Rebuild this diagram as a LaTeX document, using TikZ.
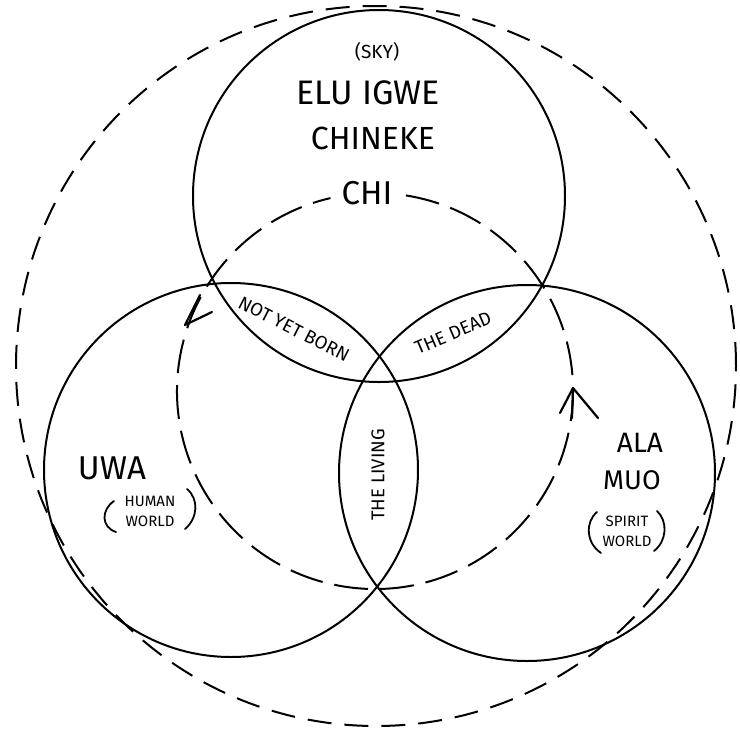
\documentclass[tikz,border=0pt]{standalone}
\usepackage{fontspec}
\setmainfont{Fira Sans}
\begin{document}
\begin{tikzpicture}[x=1pt,y=-1pt,
  ring/.style={circle, draw, line width=2pt, inner sep=0pt},
  outerdash/.style={circle, draw, inner sep=0pt, line width=2pt, dash pattern=on 24pt off 13pt},
  innerdash/.style={line width=2pt, dash pattern=on 34pt off 12pt},
  tipline/.style={line width=2.2pt, line cap=round, line join=round},
  paren/.style={line width=1.8pt, line cap=round},
  lab/.style={inner sep=0pt},
  small/.style={lab, font=\fontsize{18.5}{18.5}\selectfont},
  tiny/.style={lab, font=\fontsize{15}{20}\selectfont, align=center}]
\useasboundingbox (0,0) rectangle (740,729);
\fill[white] (0,0) rectangle (740,729);
% outer dashed circle
\node[outerdash, minimum size=720pt] (cosmos) at (376,366) {};
% three worlds
\node[ring, minimum size=372pt] (sky) at (379,196) {};
\node[ring, minimum size=374pt] (uwa) at (231,470) {};
\node[ring, minimum size=376pt] (alamuo) at (527,473) {};
% inner dashed cycle with gap for CHI
\coordinate (cyc) at (375,391);
\draw[innerdash] (cyc) ++(-81:198) arc[start angle=-81, end angle=257, radius=198];
% arrow heads
\coordinate (ltip) at (185,325);
\coordinate (la) at (200,295);
\coordinate (lb) at (212,312);
\draw[tipline] (la) -- (ltip) -- (lb);
\coordinate (rtip) at (573,388);
\coordinate (ra) at (560,413);
\coordinate (rb) at (598,418);
\coordinate (rs) at (572,418);
\draw[tipline] (ra) -- (rtip) -- (rb);
\draw[tipline] (rtip) -- (rs);
% labels
\node[lab, font=\fontsize{19}{19}\selectfont] (skylab) at (377,52) {(SKY)};
\node[lab, font=\fontsize{34}{34}\selectfont] (elu) at (368,93) {ELU IGWE};
\node[lab, font=\fontsize{32}{32}\selectfont] (chineke) at (373,138) {CHINEKE};
\node[lab, font=\fontsize{33}{33}\selectfont] (chi) at (367,193) {CHI};
\node[small, rotate=-27] (notyet) at (294,329) {NOT YET BORN};
\node[small, rotate=23] (dead) at (453,333) {THE DEAD};
\node[small, rotate=90] (living) at (378,475) {THE LIVING};
\node[lab, font=\fontsize{33}{33}\selectfont] (uwalab) at (112,468) {UWA};
\node[tiny] (human) at (150,511) {HUMAN\\WORLD};
\node[lab, font=\fontsize{28}{28}\selectfont] (ala) at (640,443) {ALA};
\node[lab, font=\fontsize{27}{27}\selectfont] (muo) at (632,480) {MUO};
\node[tiny] (spirit) at (627,531) {SPIRIT\\WORLD};
% hand drawn parentheses
\draw[paren] (114,501) .. controls (101,510) and (101,527) .. (116,532);
\draw[paren] (187,489) .. controls (199,499) and (198,518) .. (185,529);
\draw[paren] (597,512) .. controls (585,522) and (586,543) .. (601,553);
\draw[paren] (657,511) .. controls (668,521) and (667,541) .. (654,551);
\end{tikzpicture}
\end{document}
